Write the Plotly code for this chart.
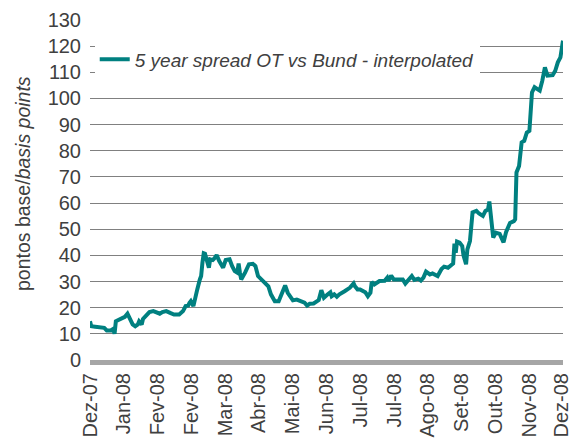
import plotly.graph_objects as go

# Day offsets (from first observation) and the 5-year spread in basis points
days = [0, 1, 4, 7, 10, 11, 13, 16, 18, 19, 20, 23, 24, 27, 29, 31, 33, 35, 37, 38,
        40, 41, 44, 46, 49, 51, 54, 56, 59, 62, 65, 69, 72, 74, 76, 77, 78, 80, 81, 83,
        85, 86, 87, 88, 89, 91, 92, 93, 95, 96, 98, 100, 103, 105, 108, 110, 112, 114, 115, 116,
        117, 120, 121, 123, 126, 128, 130, 134, 138, 140, 143, 146, 148, 151, 153, 155, 157, 160, 164, 166,
        168, 170, 173, 175, 177, 179, 181, 184, 186, 187, 189, 191, 193, 197, 201, 204, 205, 207, 209, 213,
        215, 217, 218, 220, 224, 228, 230, 231, 233, 235, 238, 242, 244, 247, 249, 251, 254, 256, 258, 260,
        263, 265, 269, 272, 274, 277, 280, 281, 282, 283, 284, 286, 288, 289, 291, 292, 294, 295, 296, 299,
        301, 304, 306, 308, 309, 310, 312, 314, 317, 320, 322, 325, 328, 329, 330, 332, 334, 336, 338, 340,
        342, 344, 348, 350, 352, 354, 358, 360, 362, 364, 366]
spread = [14.8, 12.9, 12.7, 12.5, 12.0, 12.3, 11.3, 11.3, 11.9, 10.0, 14.8, 15.5, 16.1, 16.5, 17.7, 15.5, 13.6, 12.9, 13.6, 14.8,
          13.6, 15.7, 17.1, 18.3, 18.7, 18.3, 17.7, 18.3, 18.7, 18.0, 17.4, 17.4, 18.7, 20.6, 20.8, 21.9, 22.5, 20.6, 23.1, 27.0,
          30.8, 32.1, 37.2, 40.8, 40.6, 37.2, 35.3, 38.5, 38.2, 38.7, 40.1, 37.8, 35.3, 38.2, 38.5, 35.9, 34.0, 33.4, 36.9, 33.4,
          30.8, 33.4, 34.6, 36.6, 36.8, 35.9, 32.1, 30.2, 28.2, 25.1, 22.5, 22.5, 25.1, 28.5, 25.7, 24.4, 22.8, 23.1, 22.5, 21.9,
          20.8, 21.5, 21.6, 22.5, 22.9, 26.7, 23.8, 25.1, 25.9, 24.4, 25.1, 24.2, 25.1, 26.3, 27.6, 29.3, 28.2, 27.0, 27.0, 25.9,
          24.4, 25.7, 29.8, 28.9, 30.2, 30.3, 31.5, 30.2, 32.3, 30.8, 30.8, 30.8, 29.2, 30.8, 32.1, 30.6, 31.1, 30.4, 31.5, 33.8,
          32.7, 33.1, 32.1, 34.8, 35.7, 35.3, 36.7, 36.9, 44.5, 41.0, 45.3, 44.9, 43.6, 40.0, 36.6, 42.3, 45.5, 50.0, 56.4, 57.0,
          56.0, 55.1, 57.0, 57.6, 60.6, 56.0, 46.8, 48.7, 48.2, 45.0, 49.0, 52.4, 53.1, 53.8, 71.7, 74.2, 83.2, 83.8, 87.0, 87.6,
          102.3, 104.3, 103.0, 106.8, 111.9, 108.7, 108.9, 110.6, 113.8, 115.7, 122.1]

tick_labels = ["Dez-07", "Jan-08", "Fev-08", "Fev-08", "Mar-08", "Abr-08", "Mai-08",
               "Jun-08", "Jul-08", "Jul-08", "Ago-08", "Set-08", "Out-08", "Nov-08", "Dez-08"]
y_ticks = list(range(0, 131, 10))

series_name = "5 year spread OT vs Bund - interpolated"
title_text = "5 year government bond yield spread"
y_title = "pontos base/<i>basis points</i>"

span = days[-1] - days[0]
tick_vals = [round(days[0] + i * span / (len(tick_labels) - 1), 4) for i in range(len(tick_labels))]
tick_vals[-1] = days[-1] - 1.0

FONT = "Liberation Sans, Arial, sans-serif"
TXT = "#404040"

fig = go.Figure()
fig.add_trace(go.Scatter(
    x=days, y=spread, mode="lines", name=series_name,
    line=dict(color="#008080", width=4),
))

fig.update_layout(
    width=571, height=445,
    margin=dict(l=90, r=8, t=20, b=85, autoexpand=False),
    paper_bgcolor="white", plot_bgcolor="white",
    font=dict(family=FONT, color=TXT),
    showlegend=True,
    legend=dict(
        x=0.01, y=0.94, xanchor="left", yanchor="top",
        bgcolor="white", borderwidth=0,
        font=dict(family=FONT, size=19, color=TXT, style="italic"),
    ),
    xaxis=dict(
        range=[days[0], days[-1]], automargin=False,
        tickmode="array", tickvals=tick_vals, ticktext=tick_labels,
        tickangle=-90, tickfont=dict(size=20, color=TXT),
        ticklabeloverflow="allow",
        showgrid=False, zeroline=False,
        showline=True, linecolor="#a6a6a6", linewidth=5,
        ticks="",
    ),
    yaxis=dict(
        range=[0, 130], tickmode="array", tickvals=y_ticks, automargin=False,
        tickfont=dict(size=20, color=TXT),
        showgrid=True, gridcolor="#808080", gridwidth=1,
        zeroline=False, showline=False, ticks="",
        ticklabelstandoff=8,
    ),
    annotations=[
        dict(text=y_title, xref="paper", yref="paper", x=-0.142, y=0.52,
             xanchor="center", yanchor="middle", textangle=-90, showarrow=False,
             font=dict(family=FONT, size=19.5, color=TXT)),
        dict(text="<b>" + title_text + "</b>", xref="paper", yref="paper",
             x=0.44, y=1.052, xanchor="center", yanchor="bottom", showarrow=False,
             font=dict(family=FONT, size=20, color="#808080")),
    ],
)

fig.write_html("out.html", config={"displayModeBar": False},
               post_script="document.body.style.margin='0';")
